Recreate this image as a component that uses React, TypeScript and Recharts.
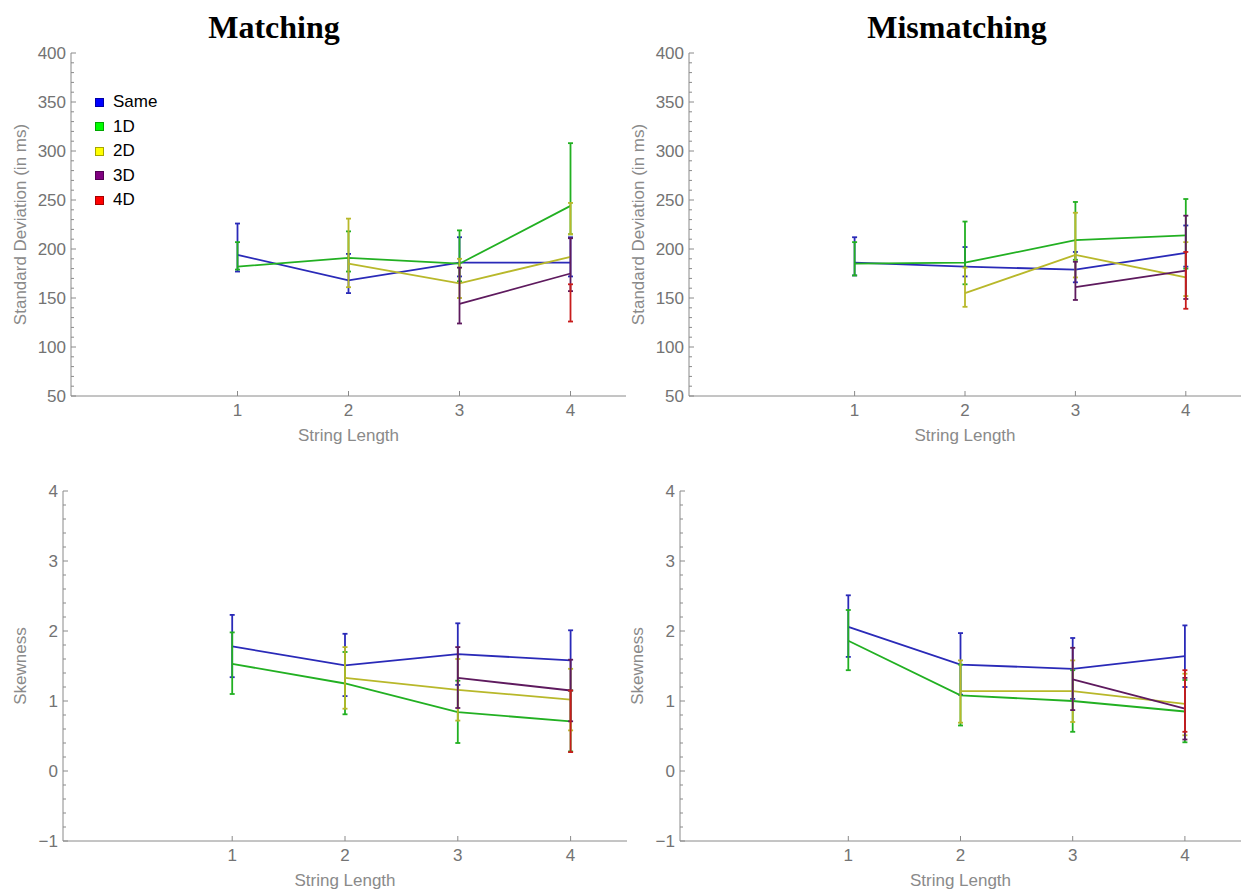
import React from "react";
import { LineChart, Line, XAxis, YAxis, ErrorBar, Label } from "recharts";

const stringLengths = [1, 2, 3, 4];
const seriesNames = ["Same", "1D", "2D", "3D", "4D"];
const lineColors = ["#2a2ab8", "#22b022", "#b8b82a", "#5e1a5e", "#c81c1c"];
const legendColors = ["#0000ff", "#00ff00", "#ffff00", "#800080", "#ff0000"];

const sdTicks = [50, 100, 150, 200, 250, 300, 350, 400];
const skewTicks = [-1, 0, 1, 2, 3, 4];

// rows: Same, 1D, 2D, 3D, 4D ; columns: string length 1..4
const sdMatchMean = [
  [194, 168, 186, 186],
  [182, 191, 185, 244],
  [null, 185, 165, 192],
  [null, null, 144, 175],
  [null, null, null, 140],
];
const sdMatchLow = [
  [177, 155, 172, 172],
  [179, 177, 167, 215],
  [null, 161, 150, 215],
  [null, null, 124, 157],
  [null, null, null, 126],
];
const sdMatchHigh = [
  [226, 195, 212, 212],
  [207, 218, 219, 308],
  [null, 231, 190, 247],
  [null, null, 181, 211],
  [null, null, null, 164],
];

const sdMismatchMean = [
  [186, 182, 179, 196],
  [185, 186, 209, 214],
  [null, 155, 194, 171],
  [null, null, 161, 178],
  [null, null, null, 168],
];
const sdMismatchLow = [
  [173, 172, 166, 182],
  [173, 164, 189, 180],
  [null, 141, 171, 152],
  [null, null, 148, 149],
  [null, null, null, 139],
];
const sdMismatchHigh = [
  [212, 202, 197, 224],
  [207, 228, 248, 251],
  [null, 181, 237, 207],
  [null, null, 187, 234],
  [null, null, null, 197],
];

const skewMatchMean = [
  [1.78, 1.51, 1.67, 1.58],
  [1.53, 1.25, 0.84, 0.71],
  [null, 1.33, 1.16, 1.02],
  [null, null, 1.33, 1.15],
  [null, null, null, 0.71],
];
const skewMatchLow = [
  [1.34, 1.07, 1.23, 1.15],
  [1.1, 0.81, 0.4, 0.28],
  [null, 0.89, 0.72, 0.58],
  [null, null, 0.9, 0.71],
  [null, null, null, 0.27],
];
const skewMatchHigh = [
  [2.23, 1.96, 2.11, 2.01],
  [1.98, 1.7, 1.29, 1.15],
  [null, 1.77, 1.6, 1.46],
  [null, null, 1.77, 1.59],
  [null, null, null, 1.15],
];

const skewMismatchMean = [
  [2.06, 1.52, 1.46, 1.64],
  [1.86, 1.08, 1.0, 0.85],
  [null, 1.14, 1.14, 0.96],
  [null, null, 1.31, 0.89],
  [null, null, null, 1.0],
];
const skewMismatchLow = [
  [1.63, 1.09, 1.03, 1.2],
  [1.44, 0.65, 0.56, 0.41],
  [null, 0.69, 0.7, 0.51],
  [null, null, 0.87, 0.45],
  [null, null, null, 0.56],
];
const skewMismatchHigh = [
  [2.51, 1.97, 1.9, 2.08],
  [2.3, 1.52, 1.44, 1.3],
  [null, 1.58, 1.58, 1.39],
  [null, null, 1.76, 1.33],
  [null, null, null, 1.44],
];

const axisColor = "#8a8a8a";
const tickColor = "#737373";
const titleColor = "#8a8a8a";
const font = '"Liberation Sans", Arial, sans-serif';

type Grid = (number | null)[][];

function buildSeries(mean: Grid, low: Grid, high: Grid) {
  return mean.map((row, s) =>
    row.flatMap((m, j) =>
      m == null
        ? []
        : [{ x: stringLengths[j], y: m, err: [m - (low[s][j] as number), (high[s][j] as number) - m] }],
    ),
  );
}

// majors plus 4 minor ticks between each pair
function withMinor(majors: number[], parts: number) {
  const out: number[] = [];
  for (let i = 0; i < majors.length - 1; i++) {
    const step = (majors[i + 1] - majors[i]) / parts;
    for (let k = 0; k < parts; k++) out.push(Math.round((majors[i] + k * step) * 1000) / 1000);
  }
  out.push(majors[majors.length - 1]);
  return out;
}

const fmt = (v: number) => (v < 0 ? "\u2212" + Math.abs(v) : String(v));

function YTick(props: any) {
  const { x, y, payload, majors } = props;
  const major = majors.some((m: number) => Math.abs(m - payload.value) < 1e-6);
  return (
    <g>
      <line x1={x} y1={y} x2={x + (major ? 5 : 3)} y2={y} stroke={axisColor} strokeWidth={1} />
      {major && (
        <text x={x - 5} y={y + 6} textAnchor="end" fill={tickColor} fontSize={17} fontFamily={font}>
          {fmt(payload.value)}
        </text>
      )}
    </g>
  );
}

function XTick(props: any) {
  const { x, y, payload } = props;
  return (
    <g>
      <line x1={x} y1={y} x2={x} y2={y - 5} stroke={axisColor} strokeWidth={1} />
      <text x={x} y={y + 20} textAnchor="middle" fill={tickColor} fontSize={17} fontFamily={font}>
        {payload.value}
      </text>
    </g>
  );
}

// no point markers, even for a series with a single point
const noDot = (dp: any) => <g key={`dot-${dp.index}`} />;

interface PanelProps {
  left: number;
  top: number;
  width: number;
  height: number;
  plot: { l: number; r: number; t: number; b: number };
  mean: Grid;
  low: Grid;
  high: Grid;
  majors: number[];
  yTitle: string;
  yTitleGap: number;
}

function Panel(p: PanelProps) {
  const YW = 60;
  const XH = 30;
  const margin = {
    left: p.plot.l - p.left - YW,
    right: p.left + p.width - p.plot.r,
    top: p.plot.t - p.top,
    bottom: p.top + p.height - p.plot.b - XH,
  };
  const series = buildSeries(p.mean, p.low, p.high);
  const domain = [p.majors[0], p.majors[p.majors.length - 1]];

  return (
    <div style={{ position: "absolute", left: p.left, top: p.top }}>
      <LineChart width={p.width} height={p.height} margin={margin}>
        <XAxis
          type="number"
          dataKey="x"
          domain={[-0.5, 4.5]}
          ticks={stringLengths}
          interval={0}
          height={XH}
          tickSize={0}
          tickMargin={0}
          tickLine={false}
          stroke={axisColor}
          tick={(tp: any) => <XTick {...tp} />}
          allowDataOverflow
        >
          <Label
            content={(lp: any) => {
              const vb = lp.viewBox;
              return (
                <text x={vb.x + vb.width / 2} y={vb.y + 45} textAnchor="middle" fill={titleColor} fontSize={17} fontFamily={font}>
                  String Length
                </text>
              );
            }}
          />
        </XAxis>
        <YAxis
          type="number"
          domain={domain}
          ticks={withMinor(p.majors, 5)}
          interval={0}
          width={YW}
          tickSize={0}
          tickMargin={0}
          tickLine={false}
          stroke={axisColor}
          tick={(tp: any) => <YTick {...tp} majors={p.majors} />}
          allowDataOverflow
        >
          <Label
            content={(lp: any) => {
              const vb = lp.viewBox;
              const cx = vb.x + YW - p.yTitleGap;
              const cy = vb.y + vb.height / 2;
              return (
                <text
                  x={cx}
                  y={cy}
                  transform={`rotate(-90 ${cx} ${cy})`}
                  textAnchor="middle"
                  fill={titleColor}
                  fontSize={17}
                  fontFamily={font}
                >
                  {p.yTitle}
                </text>
              );
            }}
          />
        </YAxis>
        {series.map((pts, i) => (
          <Line
            key={seriesNames[i]}
            data={pts}
            dataKey="y"
            stroke={lineColors[i]}
            strokeWidth={1.8}
            dot={noDot}
            activeDot={false}
            isAnimationActive={false}
          >
            <ErrorBar dataKey="err" direction="y" width={2.5} strokeWidth={1.8} stroke={lineColors[i]} isAnimationActive={false} />
          </Line>
        ))}
      </LineChart>
    </div>
  );
}

function ChartLegend() {
  return (
    <div style={{ position: "absolute", left: 95, top: 90, fontFamily: font, fontSize: 17, color: "#000" }}>
      {seriesNames.map((name, i) => (
        <div key={name} style={{ display: "flex", alignItems: "center", height: 24.5 }}>
          <span
            style={{
              display: "inline-block",
              width: 7,
              height: 7,
              background: legendColors[i],
              border: "1px solid rgba(0,0,0,0.35)",
              marginRight: 9,
            }}
          />
          <span>{name}</span>
        </div>
      ))}
    </div>
  );
}

const titleStyle: React.CSSProperties = {
  position: "absolute",
  top: 11,
  width: 300,
  textAlign: "center",
  fontFamily: '"Liberation Serif", "Times New Roman", serif',
  fontWeight: "bold",
  fontSize: 32,
  lineHeight: "32px",
  color: "#000",
};

export default function App() {
  return (
    <div style={{ position: "absolute", left: 0, top: 0, width: 1241, height: 892, background: "#fff", overflow: "hidden" }}>
      <div style={{ ...titleStyle, left: 274 - 150 }}>Matching</div>
      <div style={{ ...titleStyle, left: 957 - 150 }}>Mismatching</div>

      <Panel
        left={0}
        top={40}
        width={640}
        height={420}
        plot={{ l: 71, r: 626, t: 53, b: 396 }}
        mean={sdMatchMean}
        low={sdMatchLow}
        high={sdMatchHigh}
        majors={sdTicks}
        yTitle="Standard Deviation (in ms)"
        yTitleGap={45}
      />
      <Panel
        left={620}
        top={40}
        width={621}
        height={420}
        plot={{ l: 689, r: 1241, t: 53, b: 396 }}
        mean={sdMismatchMean}
        low={sdMismatchLow}
        high={sdMismatchHigh}
        majors={sdTicks}
        yTitle="Standard Deviation (in ms)"
        yTitleGap={45}
      />
      <Panel
        left={0}
        top={470}
        width={640}
        height={422}
        plot={{ l: 63, r: 627, t: 491, b: 841 }}
        mean={skewMatchMean}
        low={skewMatchLow}
        high={skewMatchHigh}
        majors={skewTicks}
        yTitle="Skewness"
        yTitleGap={37}
      />
      <Panel
        left={620}
        top={470}
        width={621}
        height={422}
        plot={{ l: 680, r: 1241, t: 491, b: 841 }}
        mean={skewMismatchMean}
        low={skewMismatchLow}
        high={skewMismatchHigh}
        majors={skewTicks}
        yTitle="Skewness"
        yTitleGap={37}
      />
      <ChartLegend />
    </div>
  );
}
